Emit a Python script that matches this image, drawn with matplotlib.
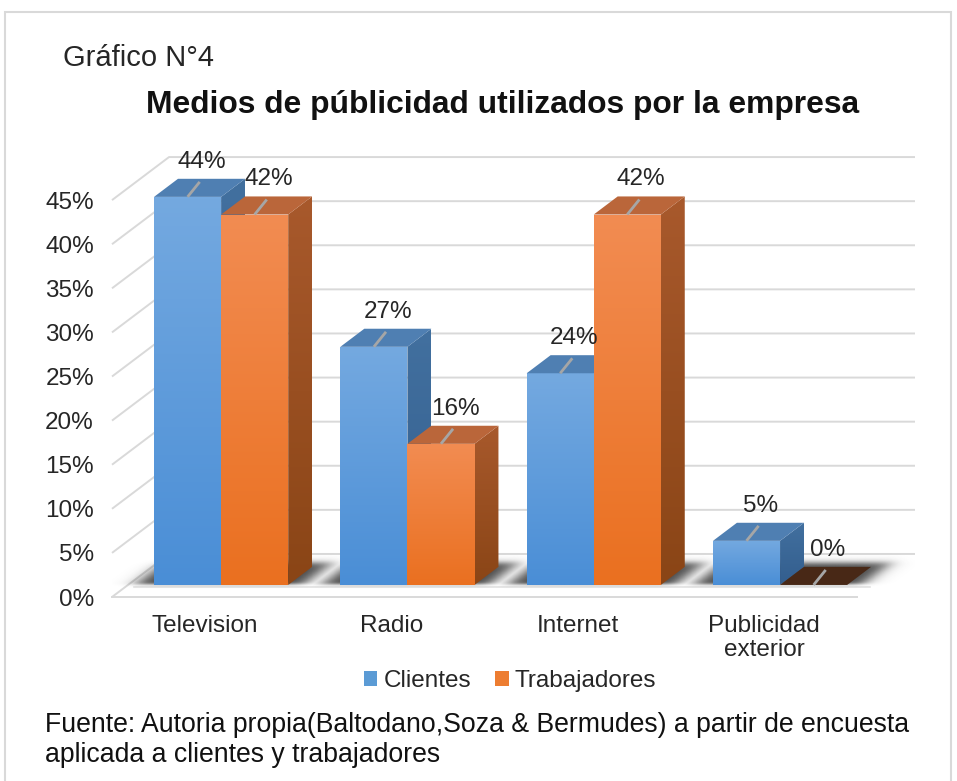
import matplotlib
matplotlib.use("Agg")
import matplotlib.pyplot as plt
import numpy as np
from matplotlib.patches import Polygon, Rectangle, Patch
from matplotlib.colors import LinearSegmentedColormap

plt.rcParams['font.family'] = ['Liberation Sans', 'DejaVu Sans']

categories = ["Television", "Radio", "Internet", "Publicidad\nexterior"]
series_names = ["Clientes", "Trabajadores"]
clientes = [44, 27, 24, 5]
trabajadores = [42, 16, 42, 0]
yticks = [0, 5, 10, 15, 20, 25, 30, 35, 40, 45]

# oblique 3D projection: back wall offset in data units
DX, DY = 0.306, 4.88
D0, D1 = 0.28, 0.70
W = 0.36
XMIN, XMAX = -0.5, 3.81

styles = {
    "Clientes": dict(ftop="#74A9E0", fbot="#4A8ED6", top="#4F7FB2",
                     stop="#42709F", sbot="#335E8E", legend="#5B9BD5"),
    "Trabajadores": dict(ftop="#F28C52", fbot="#EA7020", top="#BA663A",
                         stop="#A8592C", sbot="#8A4516", legend="#ED7D31"),
}
ZERO_TOP = "#482816"
FS = 17.5


def P(x, v, d):
    return (x + d * DX, v + d * DY)


def grad_poly(ax, pts, ctop, cbot, z):
    poly = Polygon(pts, closed=True, facecolor="none", edgecolor="none", zorder=z)
    ax.add_patch(poly)
    xs = [p[0] for p in pts]
    ys = [p[1] for p in pts]
    cmap = LinearSegmentedColormap.from_list("g", [cbot, ctop])
    im = ax.imshow(np.linspace(0, 1, 128)[:, None], cmap=cmap, origin="lower",
                   extent=[min(xs), max(xs), min(ys), max(ys)], aspect="auto",
                   zorder=z, interpolation="bilinear")
    im.set_clip_path(poly)


def draw_bar(ax, xc, v, st, z):
    x0, x1 = xc - W / 2, xc + W / 2
    if v > 0:
        side = [P(x1, 0, D0), P(x1, v, D0), P(x1, v, D1), P(x1, 0, D1)]
        grad_poly(ax, side, st["stop"], st["sbot"], z)
        front = [P(x0, 0, D0), P(x1, 0, D0), P(x1, v, D0), P(x0, v, D0)]
        grad_poly(ax, front, st["ftop"], st["fbot"], z + 0.1)
        topc = st["top"]
    else:
        topc = ZERO_TOP
    top = [P(x0, v, D0), P(x1, v, D0), P(x1, v, D1), P(x0, v, D1)]
    ax.add_patch(Polygon(top, closed=True, facecolor=topc, edgecolor="none", zorder=z + 0.2))


def soft(t, w):
    return 1.0 / (1.0 + np.exp(-t / w))


def draw_floor_shadows(ax, n_cat, z):
    # soft shadow on the floor, evaluated on a screen-aligned grid
    gx = np.linspace(-0.6, 3.95, 1000)
    gy = np.linspace(0, DY, 120)
    X, Y = np.meshgrid(gx, gy)
    dep = Y / DY
    xf = X - dep * DX
    alpha = np.zeros_like(X)
    for i in range(n_cat):
        a = (soft(xf - (i - W - 0.10), 0.03) * soft((i + W + 0.08) - xf, 0.03)
             * soft(dep - (D0 + 0.01), 0.02) * soft((D1 + 0.08) - dep, 0.04))
        alpha = np.maximum(alpha, a)
    img = np.zeros(X.shape + (4,))
    img[..., :3] = 0.2
    img[..., 3] = alpha * 0.9
    ax.imshow(img, extent=[gx[0], gx[-1], gy[0], gy[-1]], origin="lower",
              zorder=z, interpolation="bilinear", aspect="auto")


fig = plt.figure(figsize=(9.57, 7.81), dpi=100)
ax = fig.add_axes([112 / 957, 1 - 597 / 781, 803 / 957, (597 - 151.6) / 781])
ax.set_autoscale_on(False)

# gridlines on side wall and back wall
for v in yticks:
    ax.plot([XMIN, XMIN + DX, XMAX], [v, v + DY, v + DY], color="#D9D9D9", lw=1.4,
            zorder=1, clip_on=False, solid_capstyle="butt")
# floor edges
ax.plot([XMIN, XMIN + 4.0], [0, 0], color="#D9D9D9", lw=1.4, zorder=1, clip_on=False)
fx0, fy0 = P(XMIN + 0.05, 0, 0.23)
fx1, fy1 = P(XMIN + 4.0, 0, 0.23)
ax.plot([fx0, fx1], [fy0, fy1], color="#E3E3E3", lw=1.2, zorder=1, clip_on=False)

draw_floor_shadows(ax, len(categories), 2)

for i in range(len(categories)):
    for j, (name, vals) in enumerate(zip(series_names, [clientes, trabajadores])):
        xc = i + (j - 0.5) * W
        v = vals[i]
        draw_bar(ax, xc, v, styles[name], 3 + i + j * 0.5)
        fx, fy = P(xc, v, D0)
        ax.plot([fx, fx + 0.065], [fy, fy + 1.7], color="#A6A6A6", lw=2, zorder=10,
                clip_on=False, solid_capstyle="butt")
        ax.text(fx + 0.075, fy + 4.0, f"{v}%", ha="center", va="center",
                fontsize=FS, color="#262626", zorder=11)

ax.set_xlim(XMIN, XMAX)
ax.set_ylim(0, 50.5)
ax.set_yticks(yticks)
ax.set_yticklabels([f"{t}%" for t in yticks])
ax.set_xticks(range(len(categories)))
ax.set_xticklabels(categories, linespacing=1.1)
ax.tick_params(axis="y", length=0, pad=13, labelsize=FS, labelcolor="#262626")
ax.tick_params(axis="x", length=0, pad=13, labelsize=FS, labelcolor="#262626")
for s in ax.spines.values():
    s.set_visible(False)
ax.set_facecolor("none")

fig.text(63 / 957, 1 - 58 / 781, "Gráfico N°4", fontsize=21, ha="left", va="center",
         color="#262626")
fig.text(503 / 957, 1 - 105 / 781, "Medios de públicidad utilizados por la empresa",
         fontsize=22.9, fontweight="bold", ha="center", va="center", color="#111111")
fig.text(45 / 957, 1 - 740 / 781,
         "Fuente: Autoria propia(Baltodano,Soza & Bermudes) a partir de encuesta\n"
         "aplicada a clientes y trabajadores",
         fontsize=19.2, ha="left", va="center", linespacing=1.15, color="#111111")

handles = [Patch(facecolor=styles[n]["legend"], edgecolor="none") for n in series_names]
fig.legend(handles, series_names, loc="center", bbox_to_anchor=(510 / 957, 1 - 681 / 781),
           ncol=2, frameon=False, fontsize=FS, handlelength=0.55, handleheight=0.55,
           handletextpad=0.25, columnspacing=1.0, labelcolor="#262626")

fig.add_artist(Rectangle((5 / 957, -0.01), 946 / 957, (781 - 12) / 781 + 0.01,
                         transform=fig.transFigure, fill=False, edgecolor="#D9D9D9", lw=1.5))

fig.savefig("out.png", dpi=100)
